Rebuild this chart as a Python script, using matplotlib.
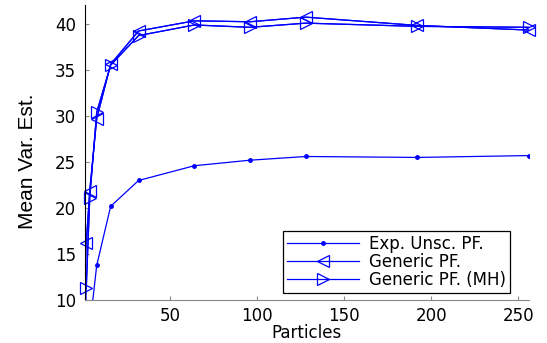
import numpy as np
import matplotlib
matplotlib.use('Agg')
import matplotlib.pyplot as plt

# particle counts
particles_exp = [4, 8, 16, 32, 64, 96, 128, 192, 256]
particles_gen = [1, 2, 4, 8, 16, 32, 64, 96, 128, 192, 256]

# mean variance estimates
exp_unsc = [7.1, 13.8, 20.2, 23.0, 24.6, 25.2, 25.6, 25.5, 25.7]
generic_pf = [8.0, 16.2, 21.9, 29.7, 35.6, 39.2, 40.3, 40.2, 40.7, 39.8, 39.3]
generic_mh = [5.0, 11.3, 21.1, 30.4, 35.5, 38.7, 39.85, 39.6, 40.05, 39.7, 39.6]

labels = ['Exp. Unsc. PF.', 'Generic PF.', 'Generic PF. (MH)']
yticks = [10, 15, 20, 25, 30, 35, 40]
xticks = [50, 100, 150, 200, 250]

plt.rcParams['font.family'] = ['DejaVu Sans']

fig = plt.figure(figsize=(5.47, 3.43), dpi=100)
ax = fig.add_axes([0.1545, 0.124, 0.967 - 0.1545, 0.985 - 0.124])

ax.plot(particles_exp, exp_unsc, color='blue', lw=0.9, marker='.', ms=5,
        label=labels[0])

# full lines clipped to the axes, markers in range drawn unclipped (as in MATLAB)
for x, y, m, lab in [(particles_gen, generic_pf, '<', labels[1]),
                     (particles_gen, generic_mh, '>', labels[2])]:
    ax.plot(x, y, color='blue', lw=0.9)
    ax.plot(x[1:], y[1:], color='blue', lw=0.9, marker=m, ms=8,
            mfc='none', mew=0.9, label=lab, clip_on=False)

ax.set_xlim(1, 256)
ax.set_ylim(10, 42)
ax.set_xticks(xticks)
ax.set_yticks(yticks)

for s in ['top', 'right']:
    ax.spines[s].set_visible(False)
ax.spines['left'].set_color('black')
ax.spines['bottom'].set_color('#888888')
ax.tick_params(direction='in', length=3, color='#888888', labelsize=12)
ax.tick_params(axis='x', pad=5)
ax.tick_params(axis='y', pad=6)

ax.set_xlabel('Particles', fontsize=12, labelpad=-1)
ax.set_ylabel('Mean Var. Est.', fontsize=15,
              family=['Liberation Sans Narrow', 'Liberation Sans'])
ax.yaxis.set_label_coords(-0.107, 0.47)

leg = ax.legend(loc='lower right', bbox_to_anchor=(0.957, 0.025),
                borderaxespad=0, fontsize=12, numpoints=1, handlelength=4.3,
                labelspacing=0.0, borderpad=0.25, handletextpad=0.6,
                fancybox=False, framealpha=1)
leg.get_frame().set_edgecolor('black')
leg.get_frame().set_linewidth(0.9)

fig.savefig('out.png', dpi=100)
